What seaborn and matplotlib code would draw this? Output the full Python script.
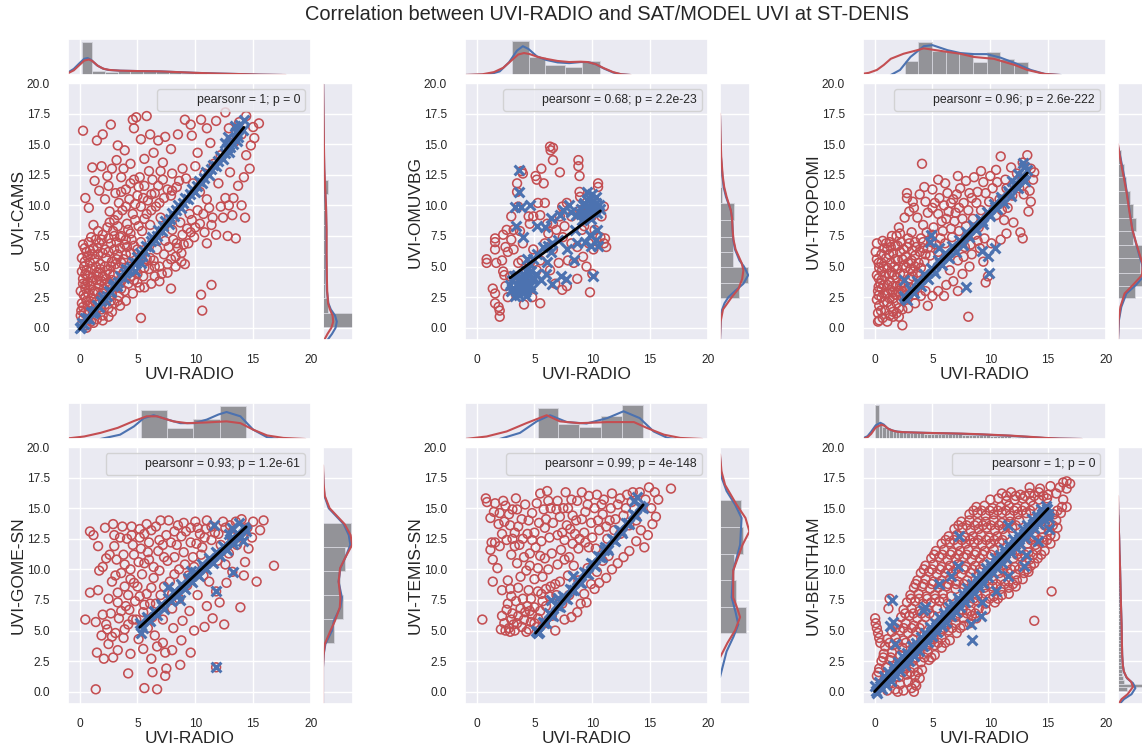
import matplotlib
matplotlib.use("Agg")
import matplotlib.pyplot as plt
import seaborn as sns
from matplotlib.lines import Line2D

# figure size in pixels (dpi 100)
W, H = 1142, 748
RED = "#c44e52"
BLUE = "#4c72b0"
GREY = "#939398"

X_TICKS = [0, 5, 10, 15, 20]
Y_TICKS = [0, 2.5, 5, 7.5, 10, 12.5, 15, 17.5, 20]
TITLE = "Correlation between UVI-RADIO and SAT/MODEL UVI at ST-DENIS"

# ---------------------------------------------------------------- CAMS
CAMS_RED = [
    (0.3, 16.1), (1.5, 15.3), (2.0, 15.8), (2.7, 16.6), (3.2, 13.7), (2.8, 13.0), (1.9, 13.2),
    (1.1, 13.1), (1.3, 12.0), (0.5, 10.6), (0.8, 9.8), (1.7, 11.2), (2.4, 12.4), (3.3, 14.9),
    (3.9, 14.5), (4.6, 17.0), (4.9, 17.2), (5.8, 17.3), (4.7, 16.3), (6.1, 15.8), (5.3, 15.4),
    (6.8, 15.3), (7.4, 15.6), (7.9, 14.6), (6.4, 14.3), (5.6, 13.8), (4.4, 13.4), (7.2, 13.5),
    (9.1, 17.0), (9.6, 16.6), (10.5, 17.0), (11.0, 16.3), (11.8, 16.9), (12.6, 17.6), (14.4, 17.3),
    (15.5, 16.7), (14.8, 14.9), (15.1, 15.5), (14.4, 14.1), (9.7, 15.7), (8.5, 15.8), (10.2, 14.3),
    (8.9, 13.0), (2.2, 10.5), (2.6, 9.5), (3.1, 11.0), (3.4, 10.2), (3.0, 8.8), (3.7, 9.6),
    (4.0, 11.3), (4.3, 10.5), (4.6, 9.3), (4.1, 8.5), (5.0, 10.8), (5.3, 9.9), (5.6, 11.6),
    (5.9, 10.4), (6.2, 9.6), (6.5, 11.0), (6.9, 10.2), (7.2, 12.1), (7.6, 11.3), (5.2, 12.3),
    (6.0, 12.8), (4.7, 12.1), (3.6, 12.3), (8.0, 12.6), (8.4, 11.5), (7.9, 10.8), (2.9, 7.9),
    (3.5, 7.4), (4.4, 7.7), (5.1, 8.3), (5.6, 8.9), (2.5, 11.6), (3.8, 13.0), (9.2, 12.2),
    (0.2, 0.3), (0.6, 0.2), (1.0, 0.5), (1.5, 0.7), (2.0, 1.0), (0.1, 1.0), (0.4, 1.2),
    (0.8, 1.4), (1.3, 1.3), (1.9, 1.5), (2.5, 1.6), (3.0, 2.0), (0.2, 2.0), (0.6, 2.2),
    (1.0, 2.4), (1.4, 2.1), (1.8, 2.6), (2.3, 2.3), (2.8, 2.7), (3.4, 2.6), (3.9, 3.0),
    (0.1, 3.0), (0.5, 3.2), (0.9, 3.4), (1.3, 3.0), (1.7, 3.5), (2.1, 3.2), (2.6, 3.6),
    (3.1, 3.3), (3.6, 3.8), (4.2, 3.6), (4.7, 3.9), (0.3, 4.0), (0.7, 4.3), (1.1, 4.1),
    (1.5, 4.5), (2.0, 4.2), (2.4, 4.7), (2.9, 4.3), (3.3, 4.9), (3.8, 4.5), (4.3, 5.0),
    (4.8, 4.7), (0.4, 5.0), (0.9, 5.3), (1.3, 5.6), (1.8, 5.2), (2.3, 5.7), (2.8, 5.4),
    (3.3, 6.0), (3.8, 5.6), (4.4, 6.1), (5.0, 6.4), (0.6, 6.2), (1.2, 6.5), (1.7, 6.9),
    (2.2, 6.4), (2.7, 6.9), (3.2, 7.0), (3.9, 6.8), (4.5, 7.2), (1.0, 7.4), (2.0, 7.6),
    (0.6, 0.0), (1.2, 0.4), (2.0, 0.6), (2.8, 1.3), (3.5, 1.8), (4.0, 2.2), (4.6, 2.8),
    (5.2, 3.3), (2.5, 0.9), (5.5, 4.2), (6.0, 4.8), (6.4, 5.5), (6.9, 5.0), (7.3, 6.0),
    (7.7, 6.6), (8.1, 7.2), (8.5, 6.5), (8.9, 7.6), (9.3, 8.1), (9.7, 8.8), (6.2, 3.6),
    (7.1, 4.4), (7.6, 5.2), (8.3, 5.8), (8.8, 6.1), (9.4, 6.9), (9.9, 7.4), (10.4, 8.5),
    (5.8, 5.6), (6.7, 6.4), (7.4, 7.1), (8.0, 8.0), (8.7, 8.6), (9.5, 9.3), (10.2, 9.6),
    (6.9, 3.8), (5.3, 0.8), (7.9, 3.2), (9.1, 5.2), (10.5, 2.7), (10.6, 1.4), (11.4, 3.5),
    (11.0, 6.9), (11.8, 7.6), (12.8, 7.5), (13.5, 7.3), (13.2, 9.2), (14.0, 10.0), (14.3, 9.0),
    (12.2, 9.9), (11.5, 9.0), (12.6, 10.6), (13.7, 11.6), (14.2, 12.3), (11.0, 10.5), (12.0, 11.8),
    (13.0, 12.7), (10.8, 12.6), (11.6, 13.4), (12.2, 14.1), (13.4, 15.2), (14.0, 15.8), (12.9, 16.3),
    (13.8, 16.8), (15.0, 16.4), (14.7, 13.0), (11.3, 15.1), (10.0, 13.2), (9.8, 11.8), (10.4, 11.1),
    (0.3, 0.7), (0.3, 1.7), (0.7, 1.8), (1.1, 1.9), (1.6, 1.9), (2.2, 1.9), (2.7, 2.2),
    (3.3, 2.2), (0.35, 2.7), (0.75, 2.8), (1.2, 2.8), (1.6, 2.9), (2.0, 2.8), (0.3, 3.6),
    (0.7, 3.7), (1.1, 3.8), (1.5, 3.9), (1.9, 3.8), (2.3, 4.0), (2.8, 3.9), (4.4, 4.2),
    (5.0, 4.4), (5.6, 4.9), (0.2, 4.6), (0.6, 4.7), (1.0, 4.8), (1.4, 5.0), (1.8, 4.8),
    (2.2, 5.0), (2.7, 5.0), (3.1, 5.2), (3.6, 5.3), (5.5, 5.4), (6.1, 5.7), (0.2, 5.7),
    (0.7, 5.8), (1.1, 6.0), (1.6, 6.0), (2.0, 6.1), (2.5, 6.2), (3.0, 6.4), (3.5, 6.5),
    (4.1, 6.6), (4.7, 6.7), (5.3, 7.0), (0.3, 6.8), (0.8, 7.0), (1.4, 7.2), (2.5, 7.3),
    (3.6, 7.5), (1.6, 7.9), (2.4, 8.2), (3.3, 8.3), (1.2, 8.4), (2.6, 8.6), (3.3, 9.2),
    (4.0, 9.9), (4.8, 10.1), (5.5, 10.6), (6.2, 10.9), (6.8, 11.6), (7.3, 10.6), (8.0, 11.2),
    (5.8, 9.3), (6.6, 9.9), (3.6, 11.1), (4.4, 11.8), (5.1, 11.5), (6.3, 12.1), (7.0, 12.8),
    (8.6, 12.0), (4.8, 8.8), (5.4, 7.9), (6.1, 8.4), (7.0, 9.0), (5.0, 3.7), (5.6, 3.3),
    (6.5, 4.2), (7.9, 5.6), (8.4, 6.9), (9.0, 6.8), (9.6, 7.8), (10.0, 8.2), (10.7, 9.3),
    (11.2, 9.8), (10.8, 7.8), (11.4, 8.4), (12.4, 9.0), (12.9, 10.0), (13.3, 10.6), (6.5, 5.0),
    (7.6, 4.5), (8.3, 5.0), (8.8, 5.4), (0.15, 1.4), (0.5, 2.5), (0.5, 3.5), (0.5, 4.4),
    (0.45, 5.4), (0.45, 6.5), (0.9, 6.3), (1.55, 6.5), (1.9, 7.2), (3.0, 7.5), (4.0, 7.2),
    (4.2, 8.0), (1.6, 4.2), (2.6, 4.4), (3.2, 5.6), (4.0, 6.0), (2.2, 3.6), (3.6, 3.2),
]
CAMS_BLUE = [
    (0.0, 0.0), (0.2, 0.4), (0.4, 0.3), (0.5, 0.8), (0.8, 0.7), (1.0, 1.3), (1.2, 1.2),
    (1.5, 1.9), (1.7, 1.7), (2.0, 2.5), (2.2, 2.3), (2.5, 3.0), (2.7, 2.9), (3.0, 3.6),
    (3.2, 3.4), (3.5, 4.2), (3.8, 4.1), (4.0, 4.8), (4.3, 4.7), (4.6, 5.4), (4.9, 5.3),
    (5.2, 6.1), (5.4, 5.9), (5.7, 6.7), (6.0, 6.6), (6.3, 7.4), (6.5, 7.2), (6.8, 8.0),
    (7.1, 7.9), (7.4, 8.7), (7.7, 8.5), (8.0, 9.4), (8.2, 9.1), (8.5, 10.0), (8.8, 9.8),
    (9.1, 10.6), (9.4, 10.5), (9.7, 11.3), (10.0, 11.1), (10.3, 12.0), (10.6, 11.8), (10.9, 12.7),
    (11.2, 12.5), (11.5, 13.3), (11.8, 13.2), (12.1, 14.0), (12.4, 13.8), (12.7, 14.7), (12.9, 14.4),
    (13.1, 15.3), (13.3, 15.0), (13.5, 16.0), (13.7, 15.6), (13.9, 16.6), (14.1, 16.2), (12.8, 15.6),
    (13.4, 16.5), (14.2, 17.0), (12.6, 15.1), (0.15, 0.1), (0.65, 0.8), (1.35, 1.4), (1.85, 2.2),
    (2.35, 2.6), (2.85, 3.4), (3.35, 3.7), (3.9, 4.5), (4.45, 5.0), (5.0, 5.8), (5.55, 6.3),
    (6.15, 7.1), (6.65, 7.5), (7.25, 8.3), (7.85, 8.9), (8.35, 9.6), (8.95, 10.2), (9.55, 10.9),
    (10.15, 11.6), (10.75, 12.2), (11.35, 13.0), (11.95, 13.6), (12.55, 14.3), (13.0, 14.8),
    (13.6, 15.3), (5.3, 5.3), (4.8, 4.6),
]
CAMS_BLUE_EXTRA = []
CAMS_TOP_EDGES = [0.2, 1.1, 2.2, 3.3, 4.4, 5.5, 6.6, 7.7, 8.8, 9.9, 11.0, 12.1, 13.2, 14.3]
CAMS_TOP_HEIGHTS = [0.93, 0.12, 0.08, 0.10, 0.10, 0.10, 0.10, 0.10, 0.06, 0.05, 0.04, 0.03, 0.02]
CAMS_RIGHT_EDGES = [0.06, 1.2, 2.4, 3.6, 4.8, 6.0, 7.2, 8.4, 9.6, 10.9, 12.1, 13.3, 14.5, 15.7, 17.0]
CAMS_RIGHT_WIDTHS = [1.0, 0.16, 0.07, 0.07, 0.07, 0.08, 0.08, 0.08, 0.08, 0.17, 0.03, 0.02, 0.01, 0.01]
CAMS_TOP_KDE_BLUE = [
    (-1.0, 0.07), (-0.5, 0.17), (0.0, 0.33), (0.4, 0.45), (0.7, 0.47), (1.0, 0.42), (1.5, 0.27),
    (2.0, 0.18), (2.5, 0.14), (3.5, 0.12), (5.0, 0.11), (7.0, 0.10), (8.5, 0.08), (10.0, 0.06),
    (12.0, 0.04), (14.0, 0.025), (15.5, 0.01), (17.5, 0.0),
]
CAMS_TOP_KDE_RED = [
    (-1.0, 0.05), (-0.5, 0.13), (0.0, 0.28), (0.4, 0.40), (0.8, 0.43), (1.1, 0.39), (1.6, 0.25),
    (2.1, 0.17), (2.6, 0.14), (3.5, 0.12), (5.0, 0.11), (7.0, 0.10), (8.5, 0.08), (10.0, 0.06),
    (12.0, 0.04), (14.0, 0.025), (15.5, 0.01), (17.8, 0.0),
]
CAMS_RIGHT_KDE_BLUE = [
    (-1.0, 0.15), (-0.5, 0.30), (0.0, 0.42), (0.5, 0.46), (1.0, 0.40), (1.5, 0.26), (2.0, 0.18),
    (3.0, 0.13), (4.0, 0.12), (6.0, 0.11), (8.0, 0.11), (10.0, 0.10), (11.5, 0.06), (13.0, 0.04),
    (15.0, 0.025), (17.0, 0.015), (19.9, 0.005),
]
CAMS_RIGHT_KDE_RED = [
    (-1.0, 0.04), (-0.5, 0.15), (0.0, 0.28), (0.5, 0.34), (1.0, 0.32), (1.5, 0.23), (2.0, 0.17),
    (3.0, 0.14), (4.0, 0.13), (6.0, 0.12), (8.0, 0.12), (10.0, 0.10), (11.5, 0.07), (13.0, 0.045),
    (15.0, 0.03), (17.0, 0.02), (19.9, 0.005),
]

# ---------------------------------------------------------------- OMUVBG
OMUVBG_RED = [
    (0.87, 5.6), (0.87, 5.3), (1.6, 7.3), (1.6, 7.0), (1.6, 6.4), (1.7, 5.3), (1.4, 3.2),
    (1.6, 2.8), (1.6, 2.0), (1.9, 1.7), (2.0, 1.4), (2.0, 0.9), (2.2, 5.5), (2.3, 4.6),
    (2.4, 4.3), (2.3, 7.6), (2.6, 8.0), (2.5, 6.6), (2.7, 6.2), (2.5, 3.4), (2.7, 2.5),
    (3.0, 7.2), (3.2, 8.0), (3.0, 9.1), (3.2, 6.4), (3.5, 11.8), (3.5, 11.1), (3.6, 9.9),
    (3.75, 7.9), (3.9, 12.8), (4.0, 12.6), (4.1, 1.9), (4.3, 4.7), (4.5, 9.1), (4.6, 8.5),
    (5.1, 12.4), (5.2, 12.1), (5.3, 10.2), (5.5, 9.2), (5.5, 2.0), (5.6, 13.0), (5.8, 11.8),
    (5.9, 10.2), (6.35, 14.8), (6.4, 14.5), (6.6, 14.7), (6.6, 13.7), (6.9, 8.0), (7.2, 12.7),
    (7.4, 9.9), (7.8, 10.2), (7.8, 3.4), (7.9, 5.5), (8.2, 9.1), (8.7, 6.6), (8.7, 4.0),
    (8.8, 13.7), (8.8, 13.2), (8.9, 12.4), (8.9, 11.1), (8.95, 10.7), (9.1, 8.0), (9.2, 5.8),
    (9.5, 5.0), (9.8, 2.9), (10.0, 4.4), (10.5, 11.8), (10.5, 11.5), (10.7, 7.4), (11.0, 6.9),
    (11.1, 7.3), (11.0, 9.9), (10.8, 9.1), (11.2, 6.6), (2.9, 4.2), (3.3, 3.6), (3.6, 5.3),
    (3.9, 5.5), (4.3, 3.6), (4.6, 5.3), (4.9, 6.4), (5.2, 4.7), (5.5, 5.5), (5.9, 6.9),
    (6.2, 7.7), (6.35, 4.7), (6.6, 6.4), (6.8, 3.6), (7.1, 5.3), (7.4, 3.1), (7.45, 7.4),
    (7.6, 8.3), (8.2, 6.9), (8.4, 5.3), (8.95, 9.6), (9.3, 8.3), (9.7, 6.9), (9.95, 9.1),
    (10.2, 8.0), (10.4, 10.2), (10.1, 6.4), (9.4, 9.1), (4.9, 9.1), (4.0, 6.9), (6.1, 8.5),
    (6.6, 8.5), (7.2, 9.1), (4.8, 2.5), (3.75, 3.1),
]
OMUVBG_BLUE = [
    (3.7, 12.9), (3.7, 11.1), (3.3, 9.9), (3.8, 9.9), (4.6, 10.0), (3.4, 8.3), (4.0, 7.4),
    (5.2, 8.3), (5.9, 8.2), (6.4, 9.0), (7.2, 9.2), (7.5, 9.6), (8.2, 9.5), (8.0, 10.0),
    (8.6, 9.2), (9.0, 9.7), (9.3, 10.2), (9.6, 9.6), (9.8, 10.5), (10.0, 10.9), (10.3, 10.2),
    (9.5, 11.1), (10.2, 9.7), (9.4, 7.0), (9.9, 6.7), (10.3, 7.2), (10.1, 4.2), (8.4, 5.5),
    (8.7, 6.9), (9.8, 7.6), (8.5, 8.0), (6.1, 5.4), (6.4, 6.2), (6.5, 6.9), (6.2, 6.7),
    (4.1, 3.8), (4.3, 4.6), (4.6, 5.2), (4.9, 5.6), (5.1, 4.4), (4.4, 5.6), (4.8, 4.0),
    (3.0, 3.0), (3.3, 2.6), (3.6, 3.4), (3.9, 4.1), (4.2, 2.9), (3.5, 4.3), (3.1, 3.9),
    (4.5, 3.3), (5.6, 3.9), (6.0, 4.4), (6.5, 3.6), (7.3, 4.2), (7.7, 4.0), (7.8, 6.4),
    (7.0, 7.2), (5.7, 6.6), (5.2, 6.0), (3.9, 3.2), (10.4, 8.0), (10.5, 6.7),
    (2.9, 3.5), (3.1, 3.2), (3.2, 4.2), (3.4, 3.0), (3.5, 3.6), (3.7, 2.7), (3.7, 4.0),
    (3.8, 3.5), (4.0, 3.0), (4.0, 4.4), (4.1, 3.4), (4.2, 4.0), (4.3, 3.1), (4.4, 3.7),
    (4.5, 4.3), (4.6, 3.5), (4.7, 4.6), (4.8, 3.2), (5.0, 4.1), (4.3, 2.6), (9.0, 9.3),
    (9.2, 10.0), (9.4, 9.4), (9.5, 10.4), (9.7, 9.2), (9.8, 9.9), (10.0, 10.3), (10.1, 9.5),
    (10.3, 10.7), (10.4, 9.4), (10.6, 10.0), (10.7, 9.7), (9.1, 8.8), (9.9, 8.9),
]
OMUVBG_BLUE_EXTRA = []
OMUVBG_TOP_EDGES = [3.05, 4.5, 5.95, 7.6, 9.1, 10.7]
OMUVBG_TOP_HEIGHTS = [0.94, 0.50, 0.27, 0.23, 0.40]
OMUVBG_RIGHT_EDGES = [2.4, 3.65, 4.94, 6.2, 7.45, 8.8, 10.2, 11.5, 12.9]
OMUVBG_RIGHT_WIDTHS = [0.64, 0.94, 0.44, 0.42, 0.42, 0.45, 0.08, 0.04]
OMUVBG_TOP_KDE_BLUE = [
    (-1.0, 0.0), (1.0, 0.01), (2.0, 0.1), (2.8, 0.35), (3.5, 0.68), (4.0, 0.80), (4.5, 0.72),
    (5.2, 0.52), (6.0, 0.42), (7.0, 0.35), (8.0, 0.33), (9.0, 0.36), (9.6, 0.36), (10.3, 0.30),
    (11.0, 0.18), (11.8, 0.07), (12.5, 0.02), (13.3, 0.0),
]
OMUVBG_TOP_KDE_RED = [
    (-1.0, 0.0), (0.5, 0.02), (1.5, 0.08), (2.3, 0.2), (3.0, 0.4), (3.6, 0.57), (4.1, 0.61),
    (4.6, 0.58), (5.3, 0.50), (6.0, 0.45), (7.0, 0.39), (8.0, 0.36), (9.0, 0.37), (9.6, 0.36),
    (10.3, 0.30), (11.0, 0.19), (11.8, 0.08), (12.5, 0.02), (13.3, 0.0),
]
OMUVBG_RIGHT_KDE_BLUE = [
    (-1.0, 0.0), (1.2, 0.03), (2.0, 0.15), (2.5, 0.28), (3.0, 0.50), (3.6, 0.78), (4.3, 0.94),
    (5.0, 0.80), (5.5, 0.65), (6.4, 0.50), (7.2, 0.44), (8.0, 0.42), (9.0, 0.40), (9.6, 0.36),
    (10.7, 0.2), (11.5, 0.12), (12.4, 0.08), (14.0, 0.03), (15.5, 0.01), (17.3, 0.0),
]
OMUVBG_RIGHT_KDE_RED = [
    (-1.0, 0.0), (0.5, 0.02), (1.5, 0.1), (2.5, 0.39), (3.2, 0.62), (4.0, 0.74), (4.7, 0.78),
    (5.3, 0.72), (6.4, 0.52), (7.2, 0.45), (8.0, 0.42), (9.0, 0.40), (9.6, 0.36), (10.7, 0.22),
    (11.5, 0.14), (12.4, 0.09), (14.0, 0.04), (15.5, 0.02), (17.5, 0.0),
]

# ---------------------------------------------------------------- TROPOMI
TROPOMI_RED = [
    (0.1, 6.2), (0.2, 5.6), (0.4, 4.9), (0.2, 4.3), (0.5, 3.6), (0.3, 3.0), (0.2, 2.3),
    (0.4, 1.8), (0.3, 1.2), (0.4, 0.6), (0.7, 0.8), (0.9, 1.4), (0.8, 2.1), (0.9, 2.8),
    (0.8, 3.5), (0.9, 4.2), (0.8, 5.0), (1.0, 5.7), (1.1, 6.4), (1.3, 7.0), (1.5, 7.5),
    (1.3, 1.0), (1.4, 1.7), (1.3, 2.4), (1.4, 3.1), (1.3, 3.8), (1.5, 4.5), (1.4, 5.3),
    (1.6, 6.1), (1.8, 6.7), (1.9, 1.2), (1.9, 2.0), (1.8, 2.7), (1.9, 3.4), (1.9, 4.1),
    (2.0, 4.8), (2.0, 5.5), (2.2, 6.2), (2.3, 7.0), (2.4, 1.5), (2.3, 2.3), (2.4, 3.0),
    (2.4, 3.7), (2.5, 4.4), (2.5, 5.1), (2.7, 5.8), (2.8, 6.6), (2.9, 7.3), (2.9, 2.5),
    (3.0, 3.3), (3.0, 4.0), (3.1, 4.8), (3.2, 5.5), (3.3, 6.3), (3.5, 7.0), (3.4, 2.7),
    (3.6, 3.6), (3.7, 4.5), (3.8, 5.3), (3.9, 6.2), (4.0, 7.3), (1.1, 0.5), (1.6, 0.9),
    (2.1, 0.9), (2.9, 1.6), (3.5, 2.0), (4.0, 2.6), (4.4, 3.0), (2.4, 0.2), (0.3, 0.5),
    (4.5, 7.8), (3.2, 7.8), (2.1, 8.2), (2.6, 9.0), (0.7, 7.1), (0.2, 6.9), (2.8, 11.0),
    (2.8, 10.6), (3.4, 9.8), (3.7, 9.0), (4.2, 8.4), (4.6, 9.4), (4.4, 10.3), (5.0, 11.3),
    (5.2, 10.2), (5.5, 9.3), (5.1, 8.2), (5.8, 8.7), (6.0, 10.0), (6.3, 11.0), (6.1, 11.8),
    (6.8, 10.5), (7.0, 9.4), (7.4, 11.4), (7.7, 10.2), (7.9, 12.0), (8.2, 11.0), (8.6, 12.3),
    (9.2, 12.8), (9.4, 11.9), (5.7, 7.3), (4.9, 7.0), (6.6, 8.1), (4.1, 13.4), (5.5, 12.1),
    (3.9, 10.9), (7.2, 12.4), (8.8, 10.2), (10.0, 12.4), (10.5, 12.9), (10.9, 14.0), (11.3, 12.1),
    (11.8, 13.1), (12.3, 12.6), (12.8, 13.5), (13.2, 14.1), (13.5, 13.0), (13.8, 12.7), (13.7, 12.1),
    (13.4, 11.2), (13.5, 10.3), (13.3, 9.5), (12.9, 10.9), (12.5, 11.4), (11.9, 10.8), (11.5, 9.8),
    (11.2, 8.8), (10.8, 10.5), (10.5, 9.2), (10.9, 7.2), (11.4, 7.7), (12.6, 7.8), (12.8, 7.3),
    (12.0, 8.6), (10.1, 6.9), (9.5, 7.3), (9.0, 8.2), (8.7, 7.6), (9.1, 6.5), (9.4, 5.4),
    (8.4, 6.0), (7.8, 6.6), (7.2, 5.5), (7.6, 4.4), (6.8, 3.8), (6.2, 3.5), (6.0, 2.6),
    (5.5, 3.0), (5.0, 2.6), (4.6, 1.8), (8.1, 0.9), (7.2, 3.0), (9.8, 4.2), (8.2, 5.0),
    (6.5, 4.7), (9.6, 3.7), (11.0, 9.6), (4.6, 6.5), (5.0, 7.6), (5.3, 6.8), (5.9, 7.9),
    (6.2, 8.9), (6.4, 9.5), (6.9, 8.7), (7.3, 9.8), (7.6, 8.9), (8.1, 9.6), (8.4, 10.6),
    (8.9, 11.1), (9.6, 11.0), (10.2, 11.4), (10.6, 11.9), (11.4, 11.4), (5.0, 9.8), (5.6, 10.6),
    (6.6, 10.2), (7.1, 10.9), (4.3, 11.5), (3.3, 10.3), (3.0, 9.5), (2.2, 7.7), (0.6, 2.5),
    (0.6, 3.2), (0.6, 3.9), (0.6, 4.6), (0.6, 5.3), (0.6, 6.0), (1.1, 2.1), (1.1, 2.8),
    (1.1, 3.5), (1.1, 4.9), (1.6, 2.4), (1.6, 3.4), (1.7, 4.3), (1.7, 5.0), (2.2, 2.7),
    (2.2, 3.5), (2.2, 4.4), (2.7, 3.4), (2.7, 4.9), (3.3, 4.2), (3.5, 5.0), (3.5, 5.9),
    (4.2, 6.5), (1.9, 7.5), (1.0, 6.9), (4.3, 5.4), (4.8, 5.9), (5.5, 6.2), (6.1, 6.9),
    (6.7, 7.4), (7.3, 7.9), (7.9, 8.3), (8.5, 8.9), (9.2, 9.6), (9.9, 10.3), (7.7, 5.8),
    (8.3, 6.8), (8.9, 7.1), (0.55, 1.4), (0.35, 2.65), (0.35, 3.35), (0.35, 4.05), (0.35, 5.3),
    (0.85, 6.5), (1.25, 6.0), (1.25, 4.4), (1.6, 1.3), (1.55, 2.9), (2.1, 1.6), (2.05, 3.0),
    (2.6, 2.6), (2.5, 6.4), (3.0, 6.9), (3.6, 6.6), (4.2, 7.0), (2.9, 5.3), (3.3, 4.6),
    (4.0, 4.9), (4.4, 6.0), (1.8, 5.6), (2.4, 5.6), (1.4, 6.6), (2.0, 6.7),
]
TROPOMI_BLUE = [
    (2.5, 2.6), (2.8, 2.3), (3.1, 3.2), (3.4, 2.8), (3.7, 3.8), (4.0, 3.4), (4.3, 4.4),
    (4.6, 4.0), (4.9, 4.9), (5.2, 4.5), (5.5, 5.5), (5.8, 5.1), (6.1, 6.1), (6.4, 5.7),
    (6.7, 6.7), (7.0, 6.2), (7.3, 7.2), (7.6, 6.8), (7.9, 7.8), (8.2, 7.4), (8.5, 8.4),
    (8.8, 8.0), (9.1, 8.9), (9.4, 8.5), (9.7, 9.5), (10.0, 9.1), (10.3, 10.1), (10.6, 9.7),
    (10.9, 10.7), (11.2, 10.2), (11.5, 11.2), (11.8, 10.8), (12.1, 11.8), (12.4, 11.4), (12.7, 12.4),
    (13.0, 12.0), (13.2, 12.9), (12.4, 12.6), (12.9, 13.1), (11.9, 12.0), (2.65, 2.45), (3.25, 3.0),
    (3.85, 3.6), (4.45, 4.15), (5.05, 4.75), (5.65, 5.3), (6.25, 5.9), (6.85, 6.45), (7.45, 7.0),
    (8.05, 7.6), (8.65, 8.15), (9.25, 8.75), (9.85, 9.3), (10.45, 9.9), (11.05, 10.45), (11.65, 11.0),
    (12.25, 11.6), (12.85, 12.15),
]
TROPOMI_BLUE_EXTRA = [
    (4.9, 7.6), (4.8, 7.0), (9.3, 6.3), (9.8, 5.9), (10.4, 6.5), (9.9, 4.5), (7.9, 3.3),
    (12.8, 13.5), (2.5, 3.9), (5.6, 6.5),
]
TROPOMI_TOP_EDGES = [2.6, 3.78, 4.96, 6.14, 7.32, 8.5, 9.68, 10.86, 12.04, 13.22]
TROPOMI_TOP_HEIGHTS = [0.38, 0.92, 0.67, 0.63, 0.60, 0.35, 0.64, 0.45, 0.35]
TROPOMI_RIGHT_EDGES = [2.4, 3.4, 4.5, 5.7, 6.8, 7.9, 9.0, 10.1, 11.2, 12.3, 13.4, 14.5]
TROPOMI_RIGHT_WIDTHS = [0.57, 0.95, 0.72, 0.80, 0.50, 0.59, 0.50, 0.39, 0.28, 0.19, 0.10]
TROPOMI_TOP_KDE_BLUE = [
    (1.4, 0.0), (2.2, 0.14), (3.1, 0.50), (4.25, 0.80), (5.0, 0.83), (6.3, 0.69), (7.4, 0.61),
    (8.6, 0.58), (9.7, 0.58), (10.9, 0.48), (12.3, 0.31), (13.5, 0.14), (14.7, 0.03), (16.1, 0.0),
]
TROPOMI_TOP_KDE_RED = [
    (-1.1, 0.03), (-0.5, 0.06), (0.2, 0.14), (0.8, 0.28), (1.4, 0.45), (2.5, 0.59), (3.7, 0.69),
    (4.25, 0.74), (5.7, 0.67), (7.4, 0.59), (8.6, 0.50), (10.3, 0.45), (12.1, 0.28), (13.2, 0.14),
    (14.7, 0.03), (16.0, 0.0),
]
TROPOMI_RIGHT_KDE_BLUE = [
    (-1.0, 0.0), (0.6, 0.03), (1.7, 0.11), (2.8, 0.28), (3.5, 0.6), (4.2, 0.85), (5.2, 0.8),
    (6.0, 0.7), (6.8, 0.61), (8.0, 0.48), (9.5, 0.39), (11.0, 0.3), (12.2, 0.22), (13.2, 0.14),
    (14.2, 0.06), (14.8, 0.0),
]
TROPOMI_RIGHT_KDE_RED = [
    (-1.0, 0.0), (0.6, 0.02), (1.7, 0.08), (2.8, 0.22), (3.5, 0.5), (4.3, 0.8), (5.2, 0.82),
    (6.0, 0.72), (6.8, 0.62), (8.0, 0.48), (9.5, 0.38), (11.0, 0.29), (12.2, 0.2), (13.2, 0.12),
    (14.2, 0.05), (15.0, 0.0),
]

# ---------------------------------------------------------------- GOME-SN
GOME_RED = [
    (0.5, 5.9), (0.9, 8.1), (1.2, 12.8), (0.9, 13.1), (1.4, 5.7), (1.5, 3.2), (1.4, 0.2),
    (1.6, 8.3), (1.6, 11.9), (1.7, 9.9), (2.0, 10.2), (2.2, 13.4), (2.1, 2.7), (2.3, 5.5),
    (2.5, 3.9), (2.4, 5.1), (2.5, 7.6), (2.7, 6.4), (2.8, 9.0), (2.9, 13.7), (3.0, 11.9),
    (3.2, 10.8), (3.3, 8.1), (3.4, 6.0), (2.9, 2.8), (3.3, 3.4), (3.5, 12.6), (3.7, 13.5),
    (3.8, 11.2), (3.6, 9.7), (3.9, 8.6), (4.0, 7.0), (3.9, 5.1), (3.8, 4.4), (4.2, 1.5),
    (4.4, 3.1), (4.1, 12.5), (4.4, 10.0), (4.5, 13.5), (4.6, 12.0), (4.7, 8.9), (4.8, 7.4),
    (4.9, 5.9), (5.1, 10.6), (5.2, 13.3), (5.3, 11.7), (5.4, 9.6), (5.5, 6.5), (5.1, 4.3),
    (5.5, 3.5), (5.6, 0.3), (5.8, 13.7), (6.0, 12.2), (6.0, 10.8), (6.2, 8.5), (6.3, 6.1),
    (6.2, 2.7), (6.5, 4.6), (6.7, 0.2), (6.6, 13.5), (6.8, 11.5), (6.9, 9.9), (7.0, 7.9),
    (7.2, 5.9), (7.2, 4.0), (7.4, 1.3), (7.4, 3.2), (7.5, 12.8), (7.6, 10.7), (7.7, 14.0),
    (7.8, 9.0), (8.0, 6.8), (8.1, 5.2), (8.4, 12.0), (8.5, 13.6), (8.6, 10.0), (8.6, 7.6),
    (8.7, 2.2), (8.9, 5.8), (9.0, 11.4), (9.2, 13.1), (9.3, 8.7), (9.5, 6.6), (9.6, 3.2),
    (9.6, 12.2), (9.9, 10.2), (10.0, 13.9), (10.2, 7.9), (10.4, 12.9), (10.5, 11.2), (10.9, 13.3),
    (11.0, 14.0), (11.0, 7.0), (11.2, 9.0), (11.5, 6.0), (11.8, 2.0), (11.4, 13.5), (11.8, 8.2),
    (12.0, 12.9), (12.1, 7.3), (12.4, 13.9), (12.6, 10.4), (13.0, 13.6), (13.2, 9.8), (13.6, 12.0),
    (14.1, 12.8), (14.3, 10.6), (14.5, 13.4), (14.2, 9.5), (14.9, 12.6), (15.0, 13.9), (15.3, 9.0),
    (15.6, 13.2), (15.9, 14.0), (16.8, 10.3), (13.9, 6.9), (12.5, 5.5), (10.8, 5.3), (9.9, 5.0),
    (8.8, 4.2), (8.0, 3.4), (7.5, 1.9), (6.3, 1.6), (6.7, 3.7), (5.9, 5.2), (4.6, 5.9),
    (5.2, 7.8), (3.3, 7.3), (2.8, 4.5), (4.3, 6.7), (6.6, 7.2), (7.3, 8.6), (8.2, 9.6),
    (9.1, 10.4), (9.8, 11.0), (10.6, 11.8), (11.4, 12.4), (12.2, 12.0), (12.9, 11.3), (13.5, 13.9),
    (14.0, 14.1), (14.6, 11.7), (11.9, 10.7), (12.7, 8.9), (10.7, 9.5), (9.4, 9.5), (13.1, 12.7),
    (3.6, 6.6), (4.2, 7.9), (4.7, 11.2), (5.6, 12.9), (5.9, 11.4), (6.4, 9.3), (6.4, 10.2),
    (6.9, 12.4), (7.3, 11.0), (7.9, 12.2), (8.2, 11.0), (8.2, 13.1), (8.8, 12.7), (9.0, 13.8),
    (10.1, 12.1), (10.2, 13.4), (10.8, 12.6), (11.7, 13.0), (12.6, 13.4), (3.1, 9.5), (3.0, 12.8),
    (2.6, 11.2), (2.3, 10.9), (3.9, 10.4), (4.4, 9.2), (5.6, 10.5), (6.1, 7.2), (5.8, 8.0),
    (4.2, 5.5), (3.1, 4.8), (2.0, 6.3), (1.9, 4.6), (5.0, 8.6), (4.5, 12.8), (5.2, 12.6),
    (7.0, 14.0), (6.2, 13.2), (7.2, 12.0), (9.6, 13.4), (8.0, 8.0), (5.6, 7.1),
]
GOME_BLUE = [
    (5.2, 5.6), (5.5, 5.2), (5.8, 6.1), (6.1, 5.8), (6.4, 6.6), (6.7, 6.3), (7.0, 7.2),
    (7.3, 6.8), (7.6, 7.7), (7.9, 7.4), (8.2, 8.2), (8.5, 7.9), (8.8, 8.8), (9.1, 8.4),
    (9.4, 9.3), (9.7, 9.0), (10.0, 9.8), (10.3, 9.5), (10.6, 10.4), (10.9, 10.0), (11.2, 10.9),
    (11.5, 10.5), (11.8, 11.4), (12.1, 11.1), (12.4, 11.9), (12.7, 11.6), (13.0, 12.5), (13.3, 12.1),
    (13.6, 13.0), (13.9, 12.6), (14.2, 13.5), (14.4, 13.1), (13.2, 13.4), (13.8, 13.8), (12.9, 12.9),
    (14.1, 12.3), (5.35, 5.45), (5.95, 5.95), (6.55, 6.5), (7.15, 7.0), (7.75, 7.55), (8.35, 8.05),
    (8.95, 8.6), (9.55, 9.1), (10.15, 9.65), (10.75, 10.2), (11.35, 10.7), (11.95, 11.25),
    (12.55, 11.75), (13.15, 12.3), (13.75, 12.8), (14.3, 13.3),
]
GOME_BLUE_EXTRA = [
    (11.8, 8.2), (11.8, 2.0), (13.3, 9.8), (8.7, 7.5), (7.6, 8.6), (11.6, 13.6), (5.3, 4.8),
    (9.6, 9.9),
]
GOME_TOP_EDGES = [5.27, 7.55, 9.83, 12.11, 14.39]
GOME_TOP_HEIGHTS = [0.81, 0.31, 0.56, 0.93]
GOME_RIGHT_EDGES = [3.97, 5.92, 7.9, 9.86, 11.85, 13.8]
GOME_RIGHT_WIDTHS = [0.36, 0.66, 0.55, 0.74, 0.94]
GOME_TOP_KDE_BLUE = [
    (1.8, 0.0), (3.5, 0.12), (4.7, 0.35), (5.55, 0.58), (6.4, 0.66), (7.6, 0.54), (8.7, 0.44),
    (9.9, 0.44), (11.0, 0.54), (12.0, 0.68), (12.7, 0.75), (13.9, 0.63), (15.0, 0.26), (16.2, 0.05),
    (17.1, 0.0),
]
GOME_TOP_KDE_RED = [
    (-0.92, 0.02), (0.4, 0.07), (1.8, 0.17), (3.3, 0.31), (4.7, 0.5), (5.8, 0.63), (6.7, 0.63),
    (8.1, 0.49), (9.3, 0.44), (11.0, 0.46), (12.7, 0.49), (13.9, 0.44), (15.0, 0.26), (16.2, 0.1),
    (17.6, 0.03), (19.5, 0.0),
]
GOME_RIGHT_KDE_BLUE = [
    (-1.0, 0.0), (2.0, 0.0), (3.0, 0.02), (3.9, 0.08), (5.0, 0.3), (5.8, 0.36), (6.9, 0.58),
    (7.7, 0.63), (9.0, 0.52), (10.1, 0.58), (11.0, 0.75), (12.0, 0.91), (12.8, 0.86), (13.7, 0.69),
    (15.0, 0.19), (16.0, 0.05), (16.7, 0.02), (18.0, 0.0),
]
GOME_RIGHT_KDE_RED = [
    (-1.0, 0.0), (2.0, 0.0), (3.0, 0.02), (3.9, 0.06), (5.0, 0.25), (5.8, 0.4), (6.9, 0.56),
    (7.7, 0.58), (9.0, 0.52), (10.1, 0.57), (11.0, 0.75), (12.0, 0.97), (12.8, 0.92), (13.7, 0.72),
    (15.0, 0.22), (16.0, 0.06), (17.0, 0.02), (18.5, 0.0),
]

# ---------------------------------------------------------------- TEMIS-SN
TEMIS_RED = [
    (0.5, 5.9), (2.1, 5.1), (2.4, 5.6), (2.2, 6.2), (2.6, 6.7), (2.8, 5.2), (3.0, 5.9),
    (3.1, 6.4), (3.3, 5.0), (3.5, 5.6), (3.6, 6.2), (3.8, 6.8), (3.9, 5.3), (4.1, 5.9),
    (4.2, 6.5), (4.4, 7.0), (4.5, 5.1), (4.7, 5.7), (4.8, 6.3), (5.0, 6.9), (5.2, 5.3),
    (5.3, 6.0), (2.7, 7.2), (3.4, 7.4), (4.0, 7.6), (2.9, 4.9), (4.3, 4.9), (5.5, 6.6),
    (5.7, 7.4), (6.0, 7.0), (6.3, 7.8), (5.9, 5.6), (6.5, 6.2), (0.8, 15.8), (0.9, 15.5),
    (1.2, 14.2), (1.5, 14.7), (1.9, 13.7), (1.6, 12.2), (1.3, 12.2), (1.2, 11.6), (1.4, 10.8),
    (1.8, 10.1), (2.0, 11.9), (2.2, 12.9), (2.3, 15.6), (2.5, 15.2), (2.8, 14.5), (2.9, 13.6),
    (3.1, 12.5), (3.0, 11.2), (2.7, 9.1), (2.9, 8.4), (2.2, 8.3), (1.4, 9.0), (3.4, 15.8),
    (3.5, 14.9), (3.6, 13.5), (3.9, 14.1), (3.7, 12.0), (3.5, 10.5), (3.8, 9.4), (3.6, 8.5),
    (4.2, 15.3), (4.4, 12.9), (4.6, 11.3), (4.3, 9.9), (4.5, 8.3), (4.8, 14.6), (5.0, 13.0),
    (5.2, 15.4), (5.1, 11.8), (5.3, 10.1), (5.0, 9.2), (5.5, 16.2), (5.8, 14.9), (5.9, 13.4),
    (5.6, 12.3), (5.9, 10.9), (5.7, 9.4), (5.6, 8.0), (6.1, 16.4), (6.4, 15.0), (6.6, 13.8),
    (6.3, 12.6), (6.5, 11.3), (6.2, 10.0), (6.4, 8.6), (7.0, 15.6), (7.2, 14.3), (7.0, 12.8),
    (7.3, 11.6), (7.0, 10.4), (7.2, 9.0), (6.9, 7.9), (7.7, 16.3), (7.9, 15.0), (7.8, 13.6),
    (7.6, 12.4), (8.0, 11.0), (7.9, 9.5), (8.3, 14.4), (8.5, 12.9), (8.7, 15.6), (8.8, 11.7),
    (8.4, 10.3), (9.1, 14.1), (9.3, 13.0), (9.1, 16.3), (9.6, 15.3), (9.7, 11.8), (9.9, 13.8),
    (10.0, 12.6), (10.2, 15.0), (10.4, 16.1), (10.6, 13.2), (10.9, 14.5), (11.0, 15.7), (11.3, 12.5),
    (11.5, 14.0), (11.7, 16.2), (11.9, 13.2), (12.2, 15.3), (12.4, 12.9), (12.7, 14.4), (13.0, 16.1),
    (13.2, 13.6), (13.4, 15.5), (13.8, 14.0), (14.1, 16.3), (14.2, 13.2), (14.6, 15.7), (14.9, 16.7),
    (15.1, 15.0), (15.4, 16.3), (15.7, 15.7), (15.5, 14.3), (15.2, 13.7), (16.8, 16.6), (14.8, 12.8),
    (14.5, 11.8), (13.8, 12.3), (13.2, 11.5), (12.7, 11.0), (12.2, 10.5), (11.7, 10.0), (11.2, 9.3),
    (10.9, 10.7), (10.6, 8.9), (10.4, 9.8), (9.9, 8.8), (9.6, 10.1), (9.3, 8.0), (9.0, 7.2),
    (8.7, 6.5), (8.2, 6.1), (8.0, 7.9), (7.6, 5.9), (7.4, 7.2), (6.8, 5.0), (10.2, 8.4),
    (9.5, 7.3), (8.8, 9.1), (11.4, 11.1), (1.6, 15.4), (2.0, 14.6), (2.6, 12.4), (3.3, 11.9),
    (4.0, 12.5), (4.1, 11.0), (4.8, 12.4), (4.6, 10.3), (5.4, 13.8), (5.5, 11.1), (6.0, 14.1),
    (6.2, 15.6), (6.9, 14.9), (7.5, 15.0), (7.4, 13.0), (8.2, 15.7), (8.1, 13.3), (8.6, 14.0),
    (8.9, 12.5), (9.4, 14.7), (9.7, 16.0), (10.5, 14.0), (10.8, 15.3), (11.2, 13.5), (11.6, 15.0),
    (12.0, 14.1), (12.4, 15.8), (12.9, 15.0), (13.5, 16.3), (2.5, 5.0), (3.2, 5.5), (4.6, 6.6),
    (5.0, 5.6), (3.0, 7.8), (4.7, 7.6), (5.3, 8.2), (6.0, 8.4), (6.8, 8.8), (3.3, 13.0),
    (4.5, 14.0), (2.4, 13.9), (3.1, 14.9), (7.6, 10.8), (8.3, 12.1), (9.4, 12.2), (10.3, 11.7),
]
TEMIS_BLUE = [
    (5.1, 5.0), (5.4, 4.9), (5.7, 5.7), (6.0, 5.6), (6.3, 6.4), (6.6, 6.2), (6.9, 7.1),
    (7.2, 6.9), (7.5, 7.8), (7.8, 7.6), (8.1, 8.4), (8.4, 8.3), (8.7, 9.1), (9.0, 8.9),
    (9.3, 9.8), (9.6, 9.6), (9.9, 10.5), (10.2, 10.3), (10.5, 11.1), (10.8, 11.0), (11.1, 11.8),
    (11.4, 11.6), (11.7, 12.5), (12.0, 12.3), (12.3, 13.2), (12.6, 13.0), (12.9, 13.8), (13.2, 13.7),
    (13.5, 14.5), (13.8, 14.4), (14.1, 15.2), (14.4, 15.0), (5.25, 4.95), (5.85, 5.65), (6.45, 6.3),
    (7.05, 7.0), (7.65, 7.65), (8.25, 8.35), (8.85, 9.0), (9.45, 9.7), (10.05, 10.4), (10.65, 11.05),
    (11.25, 11.75), (11.85, 12.4), (12.45, 13.1), (13.05, 13.75), (13.65, 14.45), (14.25, 15.1),
    (5.3, 4.8),
]
TEMIS_BLUE_EXTRA = [(8.3, 9.5), (6.4, 7.5), (7.0, 7.7), (13.6, 15.6), (13.9, 15.9), (11.0, 11.6)]
TEMIS_TOP_EDGES = [5.28, 7.07, 8.89, 10.74, 12.55, 14.34]
TEMIS_TOP_HEIGHTS = [0.86, 0.42, 0.32, 0.63, 0.94]
TEMIS_RIGHT_EDGES = [4.84, 6.93, 9.1, 11.28, 13.5, 15.7]
TEMIS_RIGHT_WIDTHS = [0.87, 0.53, 0.47, 0.76, 0.69]
TEMIS_TOP_KDE_BLUE = [
    (2.0, 0.0), (3.75, 0.17), (5.2, 0.49), (6.35, 0.66), (7.8, 0.47), (9.5, 0.43), (11.3, 0.58),
    (12.7, 0.77), (14.1, 0.58), (15.3, 0.21), (16.5, 0.03), (17.2, 0.0),
]
TEMIS_TOP_KDE_RED = [
    (-1.0, 0.0), (0.87, 0.07), (2.6, 0.21), (4.3, 0.44), (6.06, 0.66), (7.2, 0.49), (8.9, 0.44),
    (11.3, 0.47), (13.6, 0.47), (14.7, 0.31), (16.2, 0.12), (17.6, 0.03), (19.5, 0.0),
]
TEMIS_RIGHT_KDE_BLUE = [
    (1.2, 0.0), (3.3, 0.22), (4.5, 0.45), (5.5, 0.61), (6.5, 0.52), (7.7, 0.39), (9.9, 0.44),
    (12.0, 0.67), (14.2, 0.72), (15.3, 0.5), (16.4, 0.22), (17.4, 0.07), (18.3, 0.02), (19.2, 0.0),
]
TEMIS_RIGHT_KDE_RED = [
    (2.8, 0.0), (4.0, 0.25), (5.0, 0.5), (6.1, 0.67), (7.0, 0.55), (7.7, 0.44), (9.9, 0.44),
    (12.0, 0.75), (13.1, 0.98), (14.2, 0.85), (15.3, 0.55), (16.9, 0.17), (18.0, 0.05), (19.4, 0.0),
]

# ---------------------------------------------------------------- BENTHAM
BENTHAM_RED = [
    (1.1, 0.1), (1.8, 0.2), (2.5, 0.1), (3.2, 0.3), (1.5, 0.7), (2.2, 0.6), (2.9, 0.8),
    (3.5, 0.7), (0.2, 1.3), (2.1, 1.2), (2.8, 1.4), (3.5, 1.3), (3.9, 1.1), (0.4, 1.9),
    (1.0, 2.0), (2.7, 1.9), (3.4, 2.0), (4.1, 1.8), (0.6, 2.5), (1.3, 2.6), (3.3, 2.5),
    (4.0, 2.4), (4.7, 2.6), (0.8, 3.1), (1.5, 3.2), (2.2, 3.0), (3.9, 3.1), (4.6, 3.2),
    (5.2, 3.0), (0.9, 3.7), (1.6, 3.8), (2.4, 3.6), (4.5, 3.7), (5.2, 3.8), (5.8, 3.6),
    (1.1, 4.3), (1.8, 4.4), (2.5, 4.2), (3.3, 4.3), (5.1, 4.3), (5.8, 4.4), (6.5, 4.2),
    (1.5, 4.9), (2.2, 5.0), (2.9, 4.8), (3.6, 4.9), (5.7, 4.9), (6.4, 5.0), (7.1, 4.8),
    (2.0, 5.5), (2.7, 5.6), (3.4, 5.4), (4.1, 5.5), (6.3, 5.5), (7.0, 5.6), (7.7, 5.4),
    (8.2, 5.6), (2.3, 6.1), (3.0, 6.2), (3.7, 6.0), (4.4, 6.1), (5.1, 6.2), (7.0, 6.1),
    (7.7, 6.0), (8.4, 6.2), (8.8, 6.0), (2.5, 6.7), (3.2, 6.8), (3.9, 6.6), (4.6, 6.7),
    (5.4, 6.8), (7.6, 6.7), (8.3, 6.6), (9.0, 6.8), (9.6, 6.7), (2.8, 7.3), (3.5, 7.4),
    (4.2, 7.2), (4.9, 7.3), (5.6, 7.4), (6.3, 7.2), (8.2, 7.3), (8.9, 7.4), (9.6, 7.2),
    (10.4, 7.3), (3.1, 7.9), (3.8, 8.0), (4.5, 7.8), (5.2, 7.9), (5.9, 8.0), (6.6, 7.8),
    (8.9, 7.9), (9.6, 8.0), (10.3, 7.8), (11.0, 7.9), (11.6, 8.0), (3.4, 8.5), (4.1, 8.6),
    (4.8, 8.4), (5.5, 8.5), (6.2, 8.6), (7.0, 8.4), (9.5, 8.5), (10.2, 8.6), (10.9, 8.4),
    (11.6, 8.5), (12.2, 8.6), (3.7, 9.1), (4.4, 9.2), (5.1, 9.0), (5.8, 9.1), (6.5, 9.2),
    (7.2, 9.0), (8.0, 9.1), (10.2, 9.1), (10.9, 9.2), (11.6, 9.0), (12.3, 9.1), (12.8, 9.2),
    (4.0, 9.7), (4.7, 9.8), (5.4, 9.6), (6.1, 9.7), (6.8, 9.8), (7.5, 9.6), (8.3, 9.7),
    (10.8, 9.7), (11.5, 9.8), (12.2, 9.6), (12.9, 9.7), (13.3, 9.8), (4.4, 10.3), (5.1, 10.4),
    (5.8, 10.2), (6.5, 10.3), (7.2, 10.4), (7.9, 10.2), (8.7, 10.3), (9.4, 10.4), (11.4, 10.3),
    (12.1, 10.2), (12.8, 10.4), (13.5, 10.3), (13.8, 10.5), (4.9, 10.9), (5.6, 11.0), (6.3, 10.8),
    (7.0, 10.9), (7.7, 11.0), (8.4, 10.8), (9.1, 10.9), (12.0, 10.9), (12.7, 11.0), (13.4, 10.8),
    (14.1, 10.9), (5.3, 11.5), (6.0, 11.6), (6.7, 11.4), (7.4, 11.5), (8.1, 11.6), (8.8, 11.4),
    (9.5, 11.5), (10.3, 11.6), (12.6, 11.5), (13.3, 11.4), (14.0, 11.6), (14.7, 11.5), (5.8, 12.1),
    (6.5, 12.2), (7.2, 12.0), (7.9, 12.1), (8.6, 12.2), (9.3, 12.0), (10.0, 12.1), (10.8, 12.2),
    (13.2, 12.1), (13.9, 12.0), (14.6, 12.2), (15.2, 12.1), (6.4, 12.7), (7.1, 12.8), (7.8, 12.6),
    (8.5, 12.7), (9.2, 12.8), (9.9, 12.6), (10.6, 12.7), (11.3, 12.8), (13.8, 12.7), (14.5, 12.6),
    (15.2, 12.8), (15.6, 12.7), (6.9, 13.3), (7.6, 13.4), (8.3, 13.2), (9.0, 13.3), (9.7, 13.4),
    (10.4, 13.2), (11.1, 13.3), (11.9, 13.4), (14.4, 13.3), (15.1, 13.2), (15.8, 13.4), (7.5, 13.9),
    (8.2, 14.0), (8.9, 13.8), (9.6, 13.9), (10.3, 14.0), (11.0, 13.8), (11.7, 13.9), (12.5, 14.0),
    (15.0, 13.9), (15.7, 14.0), (8.2, 14.5), (8.9, 14.6), (9.6, 14.4), (10.3, 14.5), (11.0, 14.6),
    (11.7, 14.4), (12.4, 14.5), (13.1, 14.6), (15.5, 14.5), (16.1, 14.6), (8.8, 15.1), (9.5, 15.2),
    (10.2, 15.0), (10.9, 15.1), (11.6, 15.2), (12.3, 15.0), (13.0, 15.1), (13.7, 15.2), (16.2, 15.1),
    (10.0, 15.7), (10.7, 15.8), (11.4, 15.6), (12.1, 15.7), (12.8, 15.8), (13.5, 15.6), (14.2, 15.7),
    (14.9, 15.8), (16.3, 15.7), (11.0, 16.2), (11.8, 16.3), (12.6, 16.1), (13.4, 16.2), (14.2, 16.3),
    (15.0, 16.1), (15.7, 16.2), (13.4, 16.7), (14.3, 16.6), (15.2, 16.8), (16.0, 16.7), (16.6, 16.6),
    (16.3, 17.1), (16.9, 17.0), (16.6, 17.2), (0.05, 6.0), (0.1, 5.6), (0.2, 5.2), (0.3, 4.8),
    (0.4, 4.4), (0.5, 4.0), (1.2, 6.8), (1.3, 7.6), (13.8, 5.8), (15.3, 8.2), (16.6, 15.1),
    (2.0, 0.0), (3.4, 0.0), (3.6, 0.5),
    (0.35, 1.6), (2.45, 1.6), (3.1, 1.6), (3.75, 1.6), (0.75, 2.8), (1.4, 2.8), (3.6, 2.8),
    (4.3, 2.8), (4.9, 2.8), (1.3, 4.0), (2.0, 4.0), (2.7, 4.0), (4.85, 4.0), (5.5, 4.0),
    (6.1, 4.0), (1.8, 5.2), (2.5, 5.2), (3.2, 5.2), (3.9, 5.2), (6.05, 5.2), (6.7, 5.2),
    (7.4, 5.2), (2.65, 6.4), (3.35, 6.4), (4.05, 6.4), (4.75, 6.4), (7.3, 6.4), (8.0, 6.4),
    (8.7, 6.4), (3.15, 7.6), (3.85, 7.6), (4.55, 7.6), (5.25, 7.6), (5.95, 7.6), (8.55, 7.6),
    (9.25, 7.6), (9.95, 7.6), (10.65, 7.6), (3.55, 8.8), (4.25, 8.8), (4.95, 8.8), (5.65, 8.8),
    (6.35, 8.8), (7.05, 8.8), (7.7, 8.8), (9.85, 8.8), (10.55, 8.8), (11.25, 8.8), (11.95, 8.8),
    (4.25, 10.0), (4.95, 10.0), (5.65, 10.0), (6.35, 10.0), (7.05, 10.0), (7.75, 10.0),
    (8.45, 10.0), (9.1, 10.0), (11.1, 10.0), (11.8, 10.0), (12.5, 10.0), (13.2, 10.0),
    (5.15, 11.2), (5.85, 11.2), (6.55, 11.2), (7.25, 11.2), (7.95, 11.2), (8.65, 11.2),
    (9.35, 11.2), (10.05, 11.2), (12.3, 11.2), (13.0, 11.2), (13.7, 11.2), (14.4, 11.2),
    (6.15, 12.4), (6.85, 12.4), (7.55, 12.4), (8.25, 12.4), (8.95, 12.4), (9.65, 12.4),
    (10.35, 12.4), (11.05, 12.4), (13.5, 12.4), (14.2, 12.4), (14.9, 12.4), (7.25, 13.6),
    (7.95, 13.6), (8.65, 13.6), (9.35, 13.6), (10.05, 13.6), (10.75, 13.6), (11.45, 13.6),
    (12.2, 13.6), (14.7, 13.6), (15.4, 13.6), (8.55, 14.8), (9.25, 14.8), (9.95, 14.8),
    (10.65, 14.8), (11.35, 14.8), (12.05, 14.8), (12.75, 14.8), (13.45, 14.8), (15.8, 14.8),
    (11.4, 16.0), (12.2, 16.0), (13.0, 16.0), (13.8, 16.0), (14.6, 16.0),
]
BENTHAM_BLUE = [
    (0.0, 0.45), (0.4, 0.8), (0.8, 1.3), (1.2, 1.6), (1.6, 2.1), (2.0, 2.4), (2.4, 2.9),
    (2.8, 3.2), (3.2, 3.7), (3.6, 4.0), (4.0, 4.5), (4.4, 4.8), (4.8, 5.3), (5.2, 5.6),
    (5.6, 6.1), (6.0, 6.4), (6.4, 6.9), (6.8, 7.2), (7.2, 7.7), (7.6, 8.0), (8.0, 8.5),
    (8.4, 8.8), (8.8, 9.3), (9.2, 9.6), (9.6, 10.1), (10.0, 10.4), (10.4, 10.9), (10.8, 11.2),
    (11.2, 11.7), (11.6, 12.0), (12.0, 12.5), (12.4, 12.8), (12.8, 13.3), (13.2, 13.6), (13.6, 14.1),
    (14.0, 14.4), (14.4, 14.9), (14.8, 15.2), (0.2, -0.1), (0.6, 0.2), (1.0, 0.55), (1.4, 0.9),
    (1.8, 1.35), (2.2, 1.7), (2.6, 2.15), (3.0, 2.5), (3.4, 2.95), (3.8, 3.3), (4.2, 3.75),
    (4.6, 4.1), (5.0, 4.55), (5.4, 4.9), (5.8, 5.35), (6.2, 5.7), (6.6, 6.15), (7.0, 6.5),
    (7.4, 6.95), (7.8, 7.3), (8.2, 7.75), (8.6, 8.1), (9.0, 8.55), (9.4, 8.9), (9.8, 9.35),
    (10.2, 9.7), (10.6, 10.15), (11.0, 10.5), (11.4, 10.95), (11.8, 11.3), (12.2, 11.75), (12.6, 12.1),
    (13.0, 12.55), (13.4, 12.9), (13.8, 13.35), (14.2, 13.7), (14.6, 14.15), (15.0, 14.5),
    (0.1, 0.1), (0.5, 0.5), (0.9, 0.9), (1.3, 1.3), (1.7, 1.7), (2.1, 2.1), (2.5, 2.5),
    (2.9, 2.9), (3.3, 3.3), (3.7, 3.7), (4.1, 4.1), (4.5, 4.5), (4.9, 4.9), (5.3, 5.3),
    (5.7, 5.7), (6.1, 6.1), (6.5, 6.5), (6.9, 6.9), (7.3, 7.3), (7.7, 7.7), (8.1, 8.1),
    (8.5, 8.5), (8.9, 8.9), (9.3, 9.3), (9.7, 9.7), (10.1, 10.1), (10.5, 10.5), (10.9, 10.9),
    (11.3, 11.3), (11.7, 11.7), (12.1, 12.1), (12.5, 12.5), (12.9, 12.9), (13.3, 13.3), (13.7, 13.7),
    (14.1, 14.1), (14.5, 14.5), (14.9, 14.9),
]
BENTHAM_BLUE_EXTRA = [
    (1.5, 7.5), (1.6, 5.7), (1.3, 5.4), (1.8, 3.9), (7.3, 12.7), (7.2, 10.3), (5.6, 8.8),
    (4.2, 6.7), (8.3, 5.5), (8.4, 4.2), (9.2, 6.2), (9.3, 7.3), (10.5, 8.2), (11.5, 9.5),
    (11.5, 13.6), (12.9, 10.3), (13.1, 11.2), (15.1, 14.2), (15.1, 13.3), (14.1, 12.3), (4.4, 6.9),
    (6.6, 9.5),
]
BENTHAM_TOP_EDGES = [
    0.05, 0.35, 0.65, 0.95, 1.25, 1.55, 1.85, 2.15, 2.45, 2.75, 3.05, 3.35, 3.65, 3.95, 4.25,
    4.55, 4.85, 5.15, 5.45, 5.75, 6.05, 6.35, 6.65, 6.95, 7.25, 7.55, 7.85, 8.15, 8.45, 8.75,
    9.05, 9.35, 9.65, 9.95, 10.25, 10.55, 10.85, 11.15, 11.45, 11.75, 12.05, 12.35, 12.65, 12.95,
    13.25, 13.55, 13.85, 14.15, 14.45, 14.75, 15.05, 15.35,
]
BENTHAM_TOP_HEIGHTS = [
    0.95, 0.42, 0.33, 0.28, 0.25, 0.23, 0.21, 0.20, 0.19, 0.18, 0.17, 0.165, 0.16, 0.155, 0.15,
    0.15, 0.145, 0.14, 0.14, 0.14, 0.135, 0.135, 0.13, 0.13, 0.13, 0.125, 0.12, 0.12, 0.115, 0.11,
    0.11, 0.105, 0.10, 0.095, 0.09, 0.085, 0.08, 0.075, 0.07, 0.065, 0.06, 0.055, 0.05, 0.045,
    0.04, 0.035, 0.03, 0.025, 0.02, 0.015, 0.01,
]
BENTHAM_RIGHT_EDGES = [
    0.05, 0.35, 0.65, 0.95, 1.25, 1.55, 1.85, 2.15, 2.45, 2.75, 3.05, 3.35, 3.65, 3.95, 4.25,
    4.55, 4.85, 5.15, 5.45, 5.75, 6.05, 6.35, 6.65, 6.95, 7.25, 7.55, 7.85, 8.15, 8.45, 8.75,
    9.05, 9.35, 9.65, 9.95, 10.25, 10.55, 10.85, 11.15, 11.45, 11.75, 12.05, 12.35, 12.65, 12.95,
    13.25, 13.55, 13.85, 14.15, 14.45, 14.75, 15.05,
]
BENTHAM_RIGHT_WIDTHS = [
    0.30, 0.95, 0.20, 0.15, 0.13, 0.12, 0.12, 0.11, 0.11, 0.105, 0.10, 0.10, 0.10, 0.095, 0.095,
    0.09, 0.09, 0.09, 0.085, 0.085, 0.08, 0.08, 0.08, 0.075, 0.075, 0.07, 0.07, 0.07, 0.065, 0.065,
    0.06, 0.06, 0.06, 0.055, 0.055, 0.05, 0.05, 0.045, 0.045, 0.04, 0.04, 0.035, 0.035, 0.03,
    0.03, 0.025, 0.02, 0.02, 0.015, 0.01,
]
BENTHAM_TOP_KDE_BLUE = [
    (-1.0, 0.02), (-0.6, 0.08), (-0.3, 0.2), (0.1, 0.38), (0.5, 0.45), (0.8, 0.4), (1.1, 0.3),
    (1.5, 0.24), (1.9, 0.21), (2.5, 0.19), (3.4, 0.18), (4.5, 0.17), (6.0, 0.16), (7.5, 0.145),
    (8.9, 0.13), (10.3, 0.11), (11.7, 0.09), (12.7, 0.07), (13.7, 0.05), (14.8, 0.025), (16.0, 0.01),
    (17.9, 0.0),
]
BENTHAM_TOP_KDE_RED = [
    (-1.0, 0.0), (-0.6, 0.05), (-0.3, 0.14), (0.1, 0.32), (0.6, 0.4), (0.9, 0.36), (1.2, 0.28),
    (1.6, 0.23), (2.0, 0.2), (2.5, 0.19), (3.4, 0.18), (4.5, 0.17), (6.0, 0.16), (7.5, 0.15),
    (8.9, 0.135), (10.3, 0.115), (11.7, 0.095), (12.7, 0.075), (13.7, 0.055), (14.8, 0.03),
    (16.0, 0.012), (17.9, 0.0),
]
BENTHAM_RIGHT_KDE_BLUE = [
    (-1.0, 0.05), (-0.6, 0.2), (-0.2, 0.45), (0.3, 0.58), (0.7, 0.5), (1.1, 0.3), (1.6, 0.2),
    (2.2, 0.16), (3.0, 0.14), (4.0, 0.13), (5.5, 0.12), (7.0, 0.1), (8.5, 0.085), (10.0, 0.07),
    (11.5, 0.05), (12.5, 0.04), (13.5, 0.025), (14.5, 0.01), (15.5, 0.0),
]
BENTHAM_RIGHT_KDE_RED = [
    (-1.0, 0.02), (-0.6, 0.12), (-0.2, 0.32), (0.4, 0.5), (0.8, 0.44), (1.2, 0.28), (1.7, 0.19),
    (2.2, 0.16), (3.0, 0.14), (4.0, 0.13), (5.5, 0.12), (7.0, 0.1), (8.5, 0.085), (10.0, 0.07),
    (11.5, 0.05), (12.5, 0.04), (13.5, 0.025), (14.5, 0.01), (16.0, 0.0),
]

# panel table: (left px, top px, y label, stat text, data ...)
PANELS = [
    (68, 83, "UVI-CAMS", "pearsonr = 1; p = 0", CAMS_RED, CAMS_BLUE, CAMS_BLUE_EXTRA,
     CAMS_TOP_EDGES, CAMS_TOP_HEIGHTS, CAMS_RIGHT_EDGES, CAMS_RIGHT_WIDTHS,
     CAMS_TOP_KDE_BLUE, CAMS_TOP_KDE_RED, CAMS_RIGHT_KDE_BLUE, CAMS_RIGHT_KDE_RED),
    (465, 83, "UVI-OMUVBG", "pearsonr = 0.68; p = 2.2e-23", OMUVBG_RED, OMUVBG_BLUE,
     OMUVBG_BLUE_EXTRA, OMUVBG_TOP_EDGES, OMUVBG_TOP_HEIGHTS, OMUVBG_RIGHT_EDGES,
     OMUVBG_RIGHT_WIDTHS, OMUVBG_TOP_KDE_BLUE, OMUVBG_TOP_KDE_RED, OMUVBG_RIGHT_KDE_BLUE,
     OMUVBG_RIGHT_KDE_RED),
    (863, 83, "UVI-TROPOMI", "pearsonr = 0.96; p = 2.6e-222", TROPOMI_RED, TROPOMI_BLUE,
     TROPOMI_BLUE_EXTRA, TROPOMI_TOP_EDGES, TROPOMI_TOP_HEIGHTS, TROPOMI_RIGHT_EDGES,
     TROPOMI_RIGHT_WIDTHS, TROPOMI_TOP_KDE_BLUE, TROPOMI_TOP_KDE_RED, TROPOMI_RIGHT_KDE_BLUE,
     TROPOMI_RIGHT_KDE_RED),
    (68, 447, "UVI-GOME-SN", "pearsonr = 0.93; p = 1.2e-61", GOME_RED, GOME_BLUE,
     GOME_BLUE_EXTRA, GOME_TOP_EDGES, GOME_TOP_HEIGHTS, GOME_RIGHT_EDGES, GOME_RIGHT_WIDTHS,
     GOME_TOP_KDE_BLUE, GOME_TOP_KDE_RED, GOME_RIGHT_KDE_BLUE, GOME_RIGHT_KDE_RED),
    (465, 447, "UVI-TEMIS-SN", "pearsonr = 0.99; p = 4e-148", TEMIS_RED, TEMIS_BLUE,
     TEMIS_BLUE_EXTRA, TEMIS_TOP_EDGES, TEMIS_TOP_HEIGHTS, TEMIS_RIGHT_EDGES, TEMIS_RIGHT_WIDTHS,
     TEMIS_TOP_KDE_BLUE, TEMIS_TOP_KDE_RED, TEMIS_RIGHT_KDE_BLUE, TEMIS_RIGHT_KDE_RED),
    (863, 447, "UVI-BENTHAM", "pearsonr = 1; p = 0", BENTHAM_RED, BENTHAM_BLUE,
     BENTHAM_BLUE_EXTRA, BENTHAM_TOP_EDGES, BENTHAM_TOP_HEIGHTS, BENTHAM_RIGHT_EDGES,
     BENTHAM_RIGHT_WIDTHS, BENTHAM_TOP_KDE_BLUE, BENTHAM_TOP_KDE_RED, BENTHAM_RIGHT_KDE_BLUE,
     BENTHAM_RIGHT_KDE_RED),
]


def split(pairs):
    return [p[0] for p in pairs], [p[1] for p in pairs]


def px_axes(fig, x, y, w, h):
    """Add axes from a pixel box given with a top-left origin."""
    return fig.add_axes([x / W, 1 - (y + h) / H, w / W, h / H])


def draw_panel(fig, left, top, ylabel, stat, red, blue, blue_extra, top_edges, top_heights,
               right_edges, right_widths, top_kde_b, top_kde_r, right_kde_b, right_kde_r):
    ax = px_axes(fig, left, top, 243, 257)
    ax_top = px_axes(fig, left, top - 44, 243, 36)
    ax_right = px_axes(fig, left + 255, top, 30, 257)

    rx, ry = split(red)
    bx, by = split(blue + blue_extra)
    fx, fy = split(blue)
    sns.scatterplot(x=rx, y=ry, ax=ax, s=40, color=RED, facecolor="none",
                    edgecolor=RED, linewidth=1.15)
    sns.scatterplot(x=bx, y=by, ax=ax, s=50, marker="x", color=BLUE,
                    edgecolor=BLUE, linewidth=2.2)
    sns.regplot(x=fx, y=fy, ax=ax, scatter=False, ci=None, truncate=True,
                color="black", line_kws={"lw": 2.0})

    phantom = Line2D([], [], linestyle="", alpha=0)
    ax.legend([phantom], [stat], loc="upper right", fontsize=8.8)

    ax.set_xlim(-1, 20)
    ax.set_ylim(-1, 20)
    ax.set_xticks(X_TICKS)
    ax.set_yticks(Y_TICKS)
    ax.tick_params(axis="both", labelsize=8.6)
    ax.tick_params(axis="x", pad=4)
    ax.tick_params(axis="y", pad=7)
    ax.set_xlabel("UVI-RADIO", fontsize=12.5, labelpad=1)
    ax.set_ylabel(ylabel, fontsize=12.5, labelpad=1)

    # top marginal
    sns.histplot(x=top_edges[:-1], weights=top_heights, bins=top_edges, ax=ax_top,
                 color=GREY, alpha=1, edgecolor="#d4d4dc", linewidth=0.6)
    kx, ky = split(top_kde_b)
    sns.lineplot(x=kx, y=ky, ax=ax_top, color=BLUE, lw=1.5, estimator=None)
    kx, ky = split(top_kde_r)
    sns.lineplot(x=kx, y=ky, ax=ax_top, color=RED, lw=1.5, estimator=None)
    ax_top.set_xlim(-1, 20)
    ax_top.set_ylim(0, 1)
    ax_top.set_xticks(X_TICKS)
    ax_top.set_yticks([])
    ax_top.tick_params(labelbottom=False)
    ax_top.set(xlabel="", ylabel="")

    # right marginal
    sns.histplot(y=right_edges[:-1], weights=right_widths, bins=right_edges, ax=ax_right,
                 color=GREY, alpha=1, edgecolor="#d4d4dc", linewidth=0.6)
    kp, kv = split(right_kde_b)
    sns.lineplot(x=kv, y=kp, ax=ax_right, color=BLUE, lw=1.5, estimator=None,
                 orient="y", sort=False)
    kp, kv = split(right_kde_r)
    sns.lineplot(x=kv, y=kp, ax=ax_right, color=RED, lw=1.5, estimator=None,
                 orient="y", sort=False)
    ax_right.set_ylim(-1, 20)
    ax_right.set_xlim(0, 1)
    ax_right.set_yticks(Y_TICKS)
    ax_right.set_xticks([])
    ax_right.tick_params(labelleft=False)
    ax_right.set(xlabel="", ylabel="")


def main():
    sns.set_theme(style="darkgrid")
    plt.rcParams["font.family"] = ["Liberation Sans", "DejaVu Sans"]

    fig = plt.figure(figsize=(W / 100, H / 100), dpi=100)
    for panel in PANELS:
        draw_panel(fig, *panel)
    fig.suptitle(TITLE, x=607 / W, y=1 - 15 / H, va="center", fontsize=14.4)
    fig.savefig("out.png", dpi=100)
    plt.close(fig)


if __name__ == "__main__":
    main()
